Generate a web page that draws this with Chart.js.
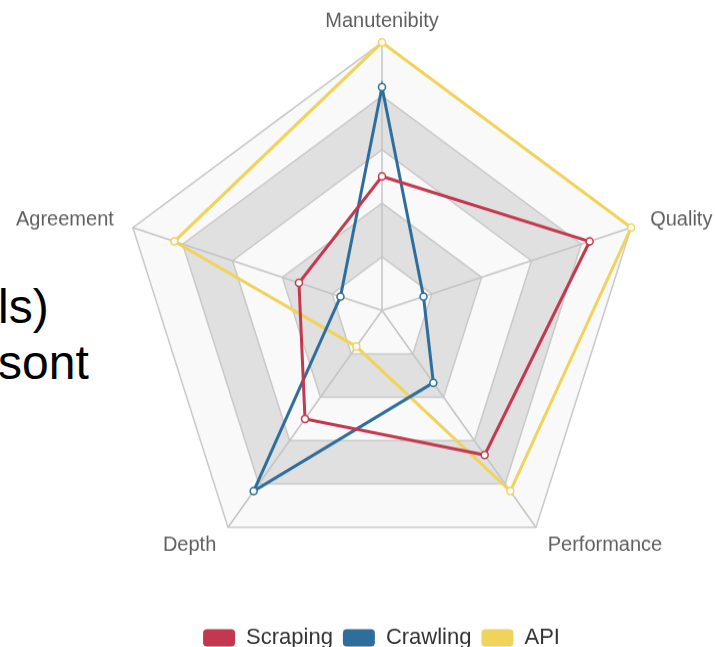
<!DOCTYPE html>
<html>
<head>
<meta charset="utf-8">
<script src="https://cdn.jsdelivr.net/npm/chart.js@4"></script>
<style>
  html, body { margin: 0; padding: 0; background: #fff; overflow: hidden; width: 715px; height: 647px; }
  #slideText {
    position: absolute; left: -2px; top: 279px;
    font-family: "Liberation Sans", Arial, sans-serif; font-size: 48px; line-height: 56px; color: #000;
  }
  #wrap {
    position: absolute; left: -3px; top: -17.4px; width: 767px; height: 661px;
    transform: scaleY(1.0232); transform-origin: 0 0;
  }
</style>
</head>
<body>
<div id="slideText">ls)<br>sont</div>
<div id="wrap"><canvas id="radarChart"></canvas></div>
<script>
// ================= DATA =================
const axes = ["Manutenibity", "Quality", "Performance", "Depth", "Agreement"];
const scraping = [3, 5, 4, 3, 2];
const crawling = [5, 1, 2, 5, 1];
const api = [6, 6, 5, 1, 5];

const seriesNames = ["Scraping", "Crawling", "API"];
const seriesColors = ["#c4384f", "#2e6e9c", "#f0d35a"];

// alternating bands between the rings (light / grey)
const bandColors = ["#f9f9f9", "#e0e0e0"];

const bandsPlugin = {
  id: "bands",
  beforeDraw(chart) {
    const scale = chart.scales.r;
    const ctx = chart.ctx;
    const ticks = scale.ticks.map(t => t.value);
    const n = axes.length;
    ctx.save();
    for (let k = 1; k < ticks.length; k++) {
      const outer = scale.getDistanceFromCenterForValue(ticks[k]);
      const inner = scale.getDistanceFromCenterForValue(ticks[k - 1]);
      ctx.beginPath();
      for (let i = 0; i < n; i++) {
        const p = scale.getPointPosition(i, outer);
        i === 0 ? ctx.moveTo(p.x, p.y) : ctx.lineTo(p.x, p.y);
      }
      ctx.closePath();
      for (let i = 0; i < n; i++) {
        const p = scale.getPointPosition(i, inner);
        i === 0 ? ctx.moveTo(p.x, p.y) : ctx.lineTo(p.x, p.y);
      }
      ctx.closePath();
      ctx.fillStyle = bandColors[(k - 1) % 2];
      ctx.fill("evenodd");
    }
    ctx.restore();
  }
};

// legend is centred under the radar centre, not under the padded area
const legendShift = {
  id: "legendShift",
  afterLayout(chart) {
    chart.legend.left += 18;
    chart.legend.right += 18;
  }
};

function makeSet(i, values) {
  return {
    label: seriesNames[i],
    data: values,
    borderColor: seriesColors[i],
    backgroundColor: seriesColors[i],
    borderWidth: 3,
    fill: false,
    pointRadius: 3.5,
    pointBorderWidth: 1.5,
    pointBackgroundColor: "#fff",
    pointBorderColor: seriesColors[i]
  };
}

new Chart(document.getElementById("radarChart"), {
  type: "radar",
  data: {
    labels: axes,
    datasets: [makeSet(0, scraping), makeSet(1, crawling), makeSet(2, api)]
  },
  options: {
    responsive: true,
    maintainAspectRatio: false,
    animation: false,
    layout: { padding: { left: 0, right: 34, top: 0, bottom: 0 } },
    elements: { line: { tension: 0 } },
    scales: {
      r: {
        min: 0,
        max: 6,
        ticks: { display: false, stepSize: 1.2 },
        grid: { color: "#c9c9c9", lineWidth: 1.5 },
        angleLines: { color: "#c4c4c4", lineWidth: 1.5 },
        pointLabels: {
          padding: 20,
          color: "#5f5f5f",
          font: { family: "'Liberation Sans', Arial, sans-serif", size: 20, lineHeight: 0.1 }
        }
      }
    },
    plugins: {
      legend: {
        position: "bottom",
        labels: {
          boxWidth: 32,
          boxHeight: 17,
          useBorderRadius: true,
          borderRadius: 4,
          padding: 10,
          color: "#333",
          font: { family: "'Liberation Sans', Arial, sans-serif", size: 22 },
          generateLabels: chart =>
            Chart.defaults.plugins.legend.labels.generateLabels(chart).map(l => ({ ...l, lineWidth: 0 }))
        }
      },
      tooltip: { enabled: false }
    }
  },
  plugins: [bandsPlugin, legendShift]
});
</script>
</body>
</html>
